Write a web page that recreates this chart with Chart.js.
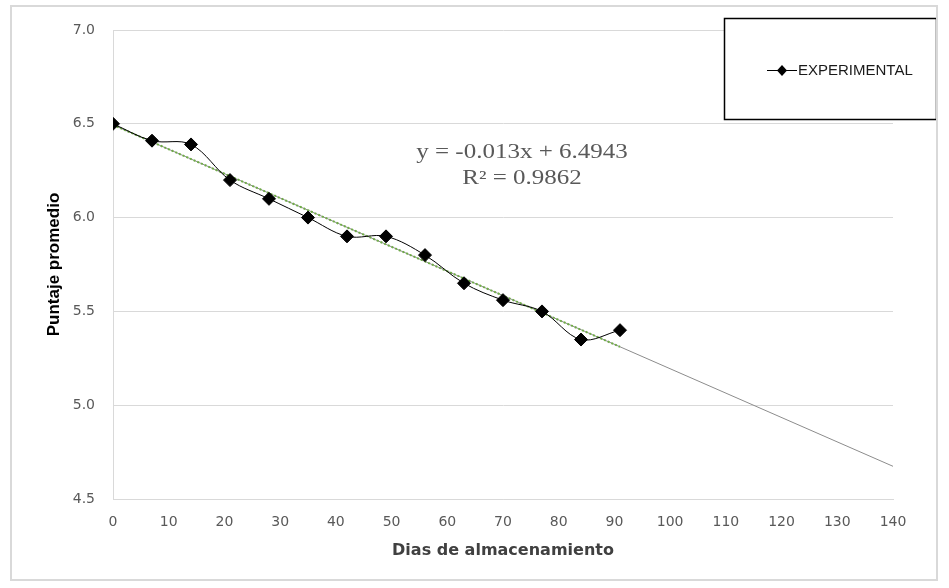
<!DOCTYPE html>
<html>
<head>
<meta charset="utf-8">
<script src="https://cdn.jsdelivr.net/npm/chart.js"></script>
<style>
  html, body { margin: 0; padding: 0; background: #fff; }
  #wrap { position: absolute; left: 0; top: 0; width: 949px; height: 588px; }
  #frame { position: absolute; left: 10px; top: 5px; width: 928px; height: 576px; border: 2px solid #d9d9d9; box-sizing: border-box; pointer-events: none; }
</style>
</head>
<body>
<div id="wrap">
  <canvas id="chart" width="949" height="588"></canvas>
  <div id="frame"></div>
</div>
<script>
// days of storage and mean score
const dias = [0, 7, 14, 21, 28, 35, 42, 49, 56, 63, 70, 77, 84, 91];
const puntaje = [6.5, 6.41, 6.39, 6.2, 6.1, 6.0, 5.9, 5.9, 5.8, 5.65, 5.56, 5.5, 5.35, 5.4];

// linear trendline as printed on the chart
const pendiente = -0.013;
const intercepto = 6.4943;
const trendFit = [0, 91];      // dotted fit over the data
const trendForecast = [0, 140]; // thin forecast line

const yTicks = [4.5, 5.0, 5.5, 6.0, 6.5, 7.0];

function lineaTendencia(xs) {
  return xs.map(function(x) { return { x: x, y: pendiente * x + intercepto }; });
}

const legendBox = {
  id: 'legendBox',
  afterDraw: function(chart) {
    const ctx = chart.ctx;
    ctx.save();
    // equation text (the original is a bit wide, so stretch it)
    ctx.fillStyle = '#595959';
    ctx.font = '20px "Liberation Serif"';
    ctx.textAlign = 'center';
    ctx.textBaseline = 'middle';
    ctx.save();
    ctx.translate(522, 0);
    ctx.scale(1.25, 1);
    ctx.fillText('y = -0.013x + 6.4943', 0, 153);
    ctx.fillText('R² = 0.9862', 0, 179);
    ctx.restore();

    // legend
    ctx.fillStyle = '#fff';
    ctx.fillRect(724, 18, 213, 102);
    ctx.strokeStyle = '#000';
    ctx.lineWidth = 1.5;
    ctx.strokeRect(724.5, 18.5, 212, 101);
    ctx.beginPath();
    ctx.lineWidth = 1;
    ctx.moveTo(767, 70.5);
    ctx.lineTo(797, 70.5);
    ctx.stroke();
    ctx.fillStyle = '#000';
    ctx.beginPath();
    ctx.moveTo(782, 65);
    ctx.lineTo(787, 70.5);
    ctx.lineTo(782, 76);
    ctx.lineTo(777, 70.5);
    ctx.closePath();
    ctx.fill();
    ctx.fillStyle = '#1a1a1a';
    ctx.font = '15px "Liberation Sans"';
    ctx.textAlign = 'left';
    ctx.fillText('EXPERIMENTAL', 798, 71);
    ctx.restore();
  }
};

const ctx = document.getElementById('chart').getContext('2d');
const chart = new Chart(ctx, {
  type: 'scatter',
  data: {
    datasets: [{
      label: 'EXPERIMENTAL',
      data: dias.map(function(d, i) { return { x: d, y: puntaje[i] }; }),
      showLine: true,
      borderColor: '#000',
      borderWidth: 1,
      tension: 0.35,
      pointStyle: 'rectRot',
      pointRadius: 6.5,
      pointBackgroundColor: '#000',
      pointBorderColor: '#000',
      order: 0
    }, {
      label: 'ajuste',
      data: lineaTendencia(trendFit),
      showLine: true,
      borderColor: '#70ad47',
      borderWidth: 2,
      borderDash: [2, 2],
      pointRadius: 0,
      order: 1
    }, {
      label: 'pronostico',
      data: lineaTendencia(trendForecast),
      showLine: true,
      borderColor: '#8c8c8c',
      borderWidth: 1,
      pointRadius: 0,
      order: 2
    }]
  },
  options: {
    responsive: false,
    animation: false,
    layout: { padding: { left: 0, top: 30, right: 56, bottom: 0 } },
    plugins: {
      legend: { display: false },
      tooltip: { enabled: false }
    },
    scales: {
      x: {
        type: 'linear',
        min: 0,
        max: 140,
        ticks: { stepSize: 10, color: '#595959', font: { family: 'DejaVu Sans', size: 14 }, padding: 7 },
        grid: { display: false },
        border: { color: '#d9d9d9', width: 1 },
        title: {
          display: true,
          text: 'Dias de almacenamiento',
          color: '#404040',
          font: { family: 'DejaVu Sans', size: 16, weight: 'bold' },
          padding: { top: 4, bottom: 28 }
        },
        afterFit: function(scale) { scale.height = 89; }
      },
      y: {
        min: 4.5,
        max: 7.0,
        afterBuildTicks: function(scale) { scale.ticks = yTicks.map(function(v) { return { value: v }; }); },
        ticks: {
          color: '#595959',
          font: { family: 'DejaVu Sans', size: 14 },
          padding: 18,
          callback: function(v) { return v.toFixed(1); }
        },
        grid: { color: '#d9d9d9', drawTicks: false },
        border: { color: '#d9d9d9', width: 1 },
        title: {
          display: true,
          text: 'Puntaje promedio',
          color: '#000',
          font: { family: 'Liberation Sans', size: 17, weight: 'bold' },
          padding: { top: 44, bottom: 0 }
        },
        afterFit: function(scale) { scale.width = 113; }
      }
    }
  },
  plugins: [legendBox]
});
</script>
</body>
</html>
